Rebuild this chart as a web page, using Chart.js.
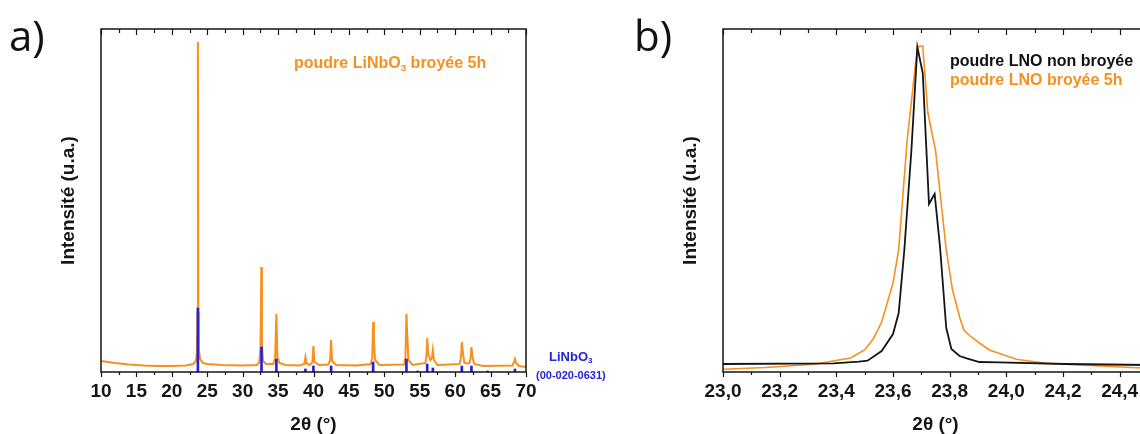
<!DOCTYPE html>
<html>
<head>
<meta charset="utf-8">
<script src="https://cdn.jsdelivr.net/npm/chart.js@4.4.1/dist/chart.umd.min.js"></script>
<style>
  html, body { margin: 0; padding: 0; width: 1140px; height: 434px; overflow: hidden; background: #fff; }
  body { position: relative; font-family: "Liberation Sans", Arial, sans-serif; }
  .wrap { position: absolute; top: 0; height: 434px; }
  #wrapA { left: 0; width: 570px; }
  #wrapB { left: 570px; width: 620px; }
  .panel { position: absolute; font-family: "Open Sans", sans-serif; font-size: 42px; line-height: 42px; color: #111; }
  .note { position: absolute; font-weight: bold; white-space: nowrap; }
  .note sub { font-size: 62%; line-height: 0; vertical-align: -0.3em; }
</style>
</head>
<body>
<div class="wrap" id="wrapA"><canvas id="chartA"></canvas></div>
<div class="wrap" id="wrapB"><canvas id="chartB"></canvas></div>

<div class="panel" style="left:9px; top:14px;">a)</div>
<div class="panel" style="left:634px; top:14px;">b)</div>

<div class="note" style="left:294px; top:54px; font-size:16px; line-height:18px; color:#f7901e;">poudre LiNbO<sub>3</sub> broyée 5h</div>
<div class="note" style="left:549px; top:349px; font-size:13px; line-height:15px; color:#2323d8;">LiNbO<sub>3</sub></div>
<div class="note" style="left:536px; top:369px; font-size:11px; line-height:13px; color:#2323d8;">(00-020-0631)</div>

<div class="note" style="left:950px; top:52px; font-size:16px; line-height:18px; color:#111;">poudre LNO non broyée</div>
<div class="note" style="left:950px; top:71px; font-size:16px; line-height:18px; color:#f7901e;">poudre LNO broyée 5h</div>

<script>
// a) diffractogramme complet, poudre broyée 5h
const angleA = [10, 11, 12, 14, 16, 18, 20, 22, 23, 23.4, 23.55, 23.63, 23.68, 23.74, 23.82, 24.0, 24.4, 25, 27, 30,
  32, 32.35, 32.52, 32.63, 32.72, 32.88, 33.3, 34.3, 34.58, 34.76, 34.9, 35.2, 36, 38, 38.7, 38.86, 39.02, 39.5,
  39.85, 39.99, 40.13, 40.8, 42.1, 42.35, 42.49, 42.63, 43.2, 46, 48.1, 48.3, 48.42, 48.53, 48.68, 49.3,
  52.8, 52.98, 53.12, 53.24, 53.4, 54, 55.8, 55.95, 56.05, 56.2, 56.5, 56.72, 56.85, 57.0, 57.5,
  60.6, 60.82, 60.94, 61.08, 61.3, 62.0, 62.18, 62.3, 62.44, 62.7, 64, 68.1, 68.3, 68.43, 68.6, 69, 70];
const intensityA = [11, 10, 9, 7.5, 6.5, 6, 6, 6.5, 8, 11, 20, 60, 330, 60, 22, 13, 9, 8, 7, 6.5,
  7, 10, 25, 105, 28, 11, 8, 8, 14, 58, 15, 9, 7, 6.5, 8, 15, 8.5, 7,
  10, 26, 10, 7, 7.5, 12, 32, 11, 7, 6.5, 8, 15, 50, 33, 12, 7,
  7.5, 15, 58, 36, 12, 7, 9, 16, 34, 18, 12, 14, 22, 12, 7,
  8, 14, 30, 20, 9, 8.5, 14, 25, 15, 8, 6, 6.5, 10, 13, 9, 6, 5];

// fiche de référence LiNbO3 (00-020-0631)
const refAngle = [23.68, 32.66, 34.76, 38.86, 39.99, 42.49, 48.42, 53.12, 54.7, 56.05, 56.85, 60.94, 62.3, 64.56, 68.43];
const refIntensity = [64, 25, 13, 3, 6, 6, 10, 13, 1, 8, 4, 6, 6, 1, 3];

// b) zoom sur le pic principal
const angleRaw = [23.00, 23.39, 23.48, 23.51, 23.56, 23.60, 23.62, 23.64, 23.665, 23.686, 23.705, 23.727, 23.747,
  23.766, 23.788, 23.806, 23.835, 23.86, 23.905, 23.976, 24.21, 24.5];
const intensityRaw = [8, 8.7, 10.3, 11.3, 21, 38, 59, 122, 222, 325, 299, 168, 178,
  125, 44, 23, 16, 13.7, 10, 9.7, 8, 7];
const angleMilled = [23.00, 23.15, 23.32, 23.45, 23.50, 23.53, 23.56, 23.60, 23.62, 23.65, 23.686, 23.705, 23.723,
  23.75, 23.764, 23.788, 23.81, 23.835, 23.85, 23.876, 23.905, 23.94, 24.035, 24.14, 24.33, 24.46, 24.5];
const intensityMilled = [2.7, 4.5, 7.7, 14, 22, 33, 50, 89, 122, 232, 325, 326, 259,
  222, 185, 122, 82, 55, 42, 35, 29, 22, 12.7, 8.7, 6, 4.3, 4];

const ticksA = [10, 15, 20, 25, 30, 35, 40, 45, 50, 55, 60, 65, 70];
const ticksB = [23.0, 23.2, 23.4, 23.6, 23.8, 24.0, 24.2, 24.4];

const orange = '#f7901e';
const blue = '#2323d8';
const ink = '#151515';
const family = '"Liberation Sans", Arial, sans-serif';

const pts = (xs, ys) => xs.map((x, i) => ({ x: x, y: ys[i] }));

// cadre + graduations (majeures / mineures), en bas vers l'extérieur, en haut vers l'intérieur
const frame = {
  id: 'frame',
  afterDraw(chart, args, opts) {
    const { ctx, chartArea: { left, right, top, bottom }, scales: { x } } = chart;
    ctx.save();
    ctx.strokeStyle = ink;
    ctx.lineWidth = 1.5;
    ctx.strokeRect(left, top, right - left, bottom - top);
    ctx.lineWidth = 1.2;
    const half = opts.step / 2;
    for (let v = x.min; v <= x.max + 1e-9; v += half) {
      const major = Math.abs(v / opts.step - Math.round(v / opts.step)) < 1e-6;
      const px = Math.round(x.getPixelForValue(v)) + 0.5;
      ctx.beginPath();
      ctx.moveTo(px, bottom);
      ctx.lineTo(px, bottom + (major ? 5 : 3));
      ctx.moveTo(px, top);
      ctx.lineTo(px, top + (major ? 6 : 4));
      ctx.stroke();
    }
    ctx.restore();
  }
};

function scalesFor(min, max, tickVals, yWidth, titleX, fmt) {
  return {
    x: {
      type: 'linear', min: min, max: max, offset: false,
      grid: { display: false, drawTicks: false, offset: false },
      border: { display: false },
      afterBuildTicks: s => { s.ticks = tickVals.map(v => ({ value: v })); },
      afterFit: s => { s.height = 62; },
      ticks: { color: ink, padding: 8, maxRotation: 0, autoSkip: false,
        font: { family: family, size: 19, weight: 'bold' }, callback: fmt },
      title: { display: true, text: '2θ (°)', color: ink, padding: 0,
        font: { family: family, size: 19, weight: 'bold', lineHeight: 1 } }
    },
    y: {
      min: 0, max: 343,
      grid: { display: false, drawTicks: false },
      border: { display: false },
      ticks: { display: false },
      afterFit: s => { s.width = yWidth; },
      title: { display: true, text: 'Intensité (u.a.)', color: ink, padding: { top: titleX - 11.4 },
        font: { family: family, size: 19, weight: 'bold' } }
    }
  };
}

new Chart(document.getElementById('chartA'), {
  type: 'line',
  data: {
    datasets: [
      { type: 'bar', data: pts(refAngle, refIntensity), backgroundColor: blue, borderWidth: 0,
        barThickness: 2, order: 0 },
      { data: pts(angleA, intensityA), borderColor: orange, borderWidth: 2, pointRadius: 0,
        tension: 0, fill: false, order: 1 }
    ]
  },
  options: {
    responsive: true, maintainAspectRatio: false, animation: false,
    layout: { padding: { top: 29, right: 44, left: 0, bottom: 0 } },
    plugins: { legend: { display: false }, tooltip: { enabled: false }, frame: { step: 5 } },
    scales: scalesFor(10, 70, ticksA, 101, 69, v => String(v))
  },
  plugins: [frame]
});

new Chart(document.getElementById('chartB'), {
  type: 'line',
  data: {
    datasets: [
      { data: pts(angleRaw, intensityRaw), borderColor: ink, borderWidth: 1.8, pointRadius: 0, tension: 0 },
      { data: pts(angleMilled, intensityMilled), borderColor: orange, borderWidth: 1.6, pointRadius: 0, tension: 0 }
    ]
  },
  options: {
    responsive: true, maintainAspectRatio: false, animation: false,
    layout: { padding: { top: 29, right: 42, left: 0, bottom: 0 } },
    plugins: { legend: { display: false }, tooltip: { enabled: false }, frame: { step: 0.2 } },
    scales: scalesFor(23.0, 24.5, ticksB, 153, 121, v => v.toFixed(1).replace('.', ','))
  },
  plugins: [frame]
});
</script>
</body>
</html>
